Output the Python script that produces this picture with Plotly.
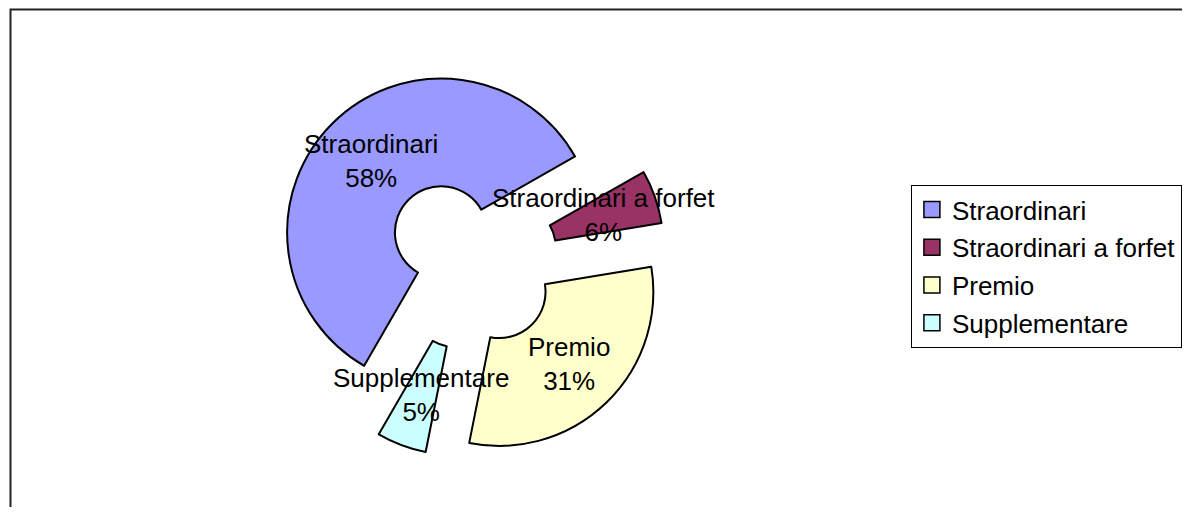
import math

import plotly.graph_objects as go

labels = ["Straordinari", "Straordinari a forfet", "Premio", "Supplementare"]
values = [58.45, 5.6, 30.75, 5.2]
colors = ["#9999FF", "#993366", "#FFFFCC", "#CCFFFF"]

# the page body has an 8px margin, so the figure is 16px smaller than the window
W, H = 1174, 499
FONT = "Liberation Sans, Arial, sans-serif"
FS = 26

# pie geometry in figure pixels (margins are zero so paper == figure)
cx, cy = 464, 254
radius = 154
pull = 0.27
hole = 0.30
rotation = 210
box = 2 * radius * (1 + pull)

fig = go.Figure()
fig.add_trace(
    go.Pie(
        labels=labels,
        values=values,
        sort=False,
        direction="clockwise",
        rotation=rotation,
        hole=hole,
        pull=[pull] * len(values),
        marker=dict(colors=colors, line=dict(color="black", width=2)),
        textinfo="none",
        hoverinfo="label+percent",
        showlegend=False,
        domain=dict(
            x=[(cx - 250) / W, (cx + 250) / W],
            y=[1 - (cy + box / 2) / H, 1 - (cy - box / 2) / H],
        ),
    )
)

# legend entries with bigger square swatches than the pie legend gives
for lab, col in zip(labels, colors):
    fig.add_trace(
        go.Scatter(
            x=[None],
            y=[None],
            mode="markers",
            name=lab,
            legendgroup=lab,
            marker=dict(symbol="square", size=16, color=col, line=dict(color="black", width=1.5)),
            hoverinfo="skip",
        )
    )

# data labels at the middle of each ring segment, Excel style
total = sum(values)
angle = rotation
for lab, v in zip(labels, values):
    span = v / total * 360
    mid = math.radians(angle + span / 2)
    dist = pull * radius + radius * (1 + hole) / 2
    px = cx + dist * math.sin(mid)
    py = cy - dist * math.cos(mid)
    fig.add_annotation(
        x=px / W,
        y=1 - py / H,
        xref="paper",
        yref="paper",
        xanchor="center",
        yanchor="middle",
        text=f"{lab}<br>{round(v / total * 100)}%",
        showarrow=False,
        font=dict(family=FONT, size=FS, color="black"),
    )
    angle += span

# chart frame (right and bottom edges run off the page)
fig.add_shape(
    type="rect",
    xref="paper",
    yref="paper",
    x0=2.5 / W,
    x1=1.05,
    y0=-0.05,
    y1=1 - 1.5 / H,
    line=dict(color="#222222", width=2),
)

fig.update_layout(
    width=W,
    height=H,
    margin=dict(l=0, r=0, t=0, b=0),
    paper_bgcolor="white",
    plot_bgcolor="white",
    font=dict(family=FONT, size=FS, color="black"),
    xaxis=dict(visible=False),
    yaxis=dict(visible=False),
    showlegend=True,
    legend=dict(
        x=906 / W,
        y=1 - 177 / H,
        xanchor="left",
        yanchor="top",
        bordercolor="black",
        borderwidth=1,
        bgcolor="white",
        tracegroupgap=1,
        font=dict(family=FONT, size=FS, color="black"),
    ),
)

fig.write_html("out.html")
